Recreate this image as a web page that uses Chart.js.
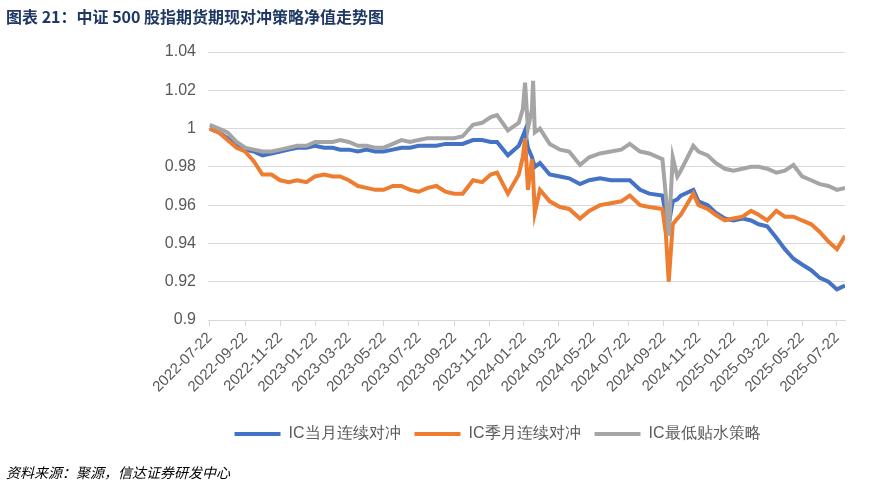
<!DOCTYPE html>
<html><head><meta charset="utf-8">
<script src="https://cdn.jsdelivr.net/npm/chart.js@4/dist/chart.umd.min.js"></script>
<style>
html,body{margin:0;padding:0;background:#fff;}
#wrap{position:relative;width:886px;height:488px;}
#title{position:absolute;left:6px;top:4px;font-family:"Noto Sans CJK SC";font-weight:bold;font-size:16px;color:#1f3864;}
#src{position:absolute;left:6px;top:462px;font-family:"Noto Sans CJK SC";font-style:italic;font-size:14px;color:#000;}
canvas{position:absolute;left:0;top:0;}
</style></head><body>
<div id="wrap"><canvas id="c" width="886" height="488"></canvas>
<div id="title">图表 21：中证 500 股指期货期现对冲策略净值走势图</div>
<div id="src">资料来源：聚源，信达证券研发中心</div></div>
<script>
const dates=["2022-07-22","2022-08-07","2022-08-22","2022-09-07","2022-09-22","2022-10-07","2022-10-22","2022-11-07","2022-11-22","2022-12-07","2022-12-22","2023-01-07","2023-01-22","2023-02-07","2023-02-22","2023-03-07","2023-03-22","2023-04-07","2023-04-22","2023-05-07","2023-05-22","2023-06-07","2023-06-22","2023-07-07","2023-07-22","2023-08-07","2023-08-22","2023-09-07","2023-09-22","2023-10-07","2023-10-25","2023-11-10","2023-11-25","2023-12-06","2023-12-25","2024-01-13","2024-01-20","2024-01-24","2024-01-29","2024-02-05","2024-02-07","2024-02-10","2024-02-19","2024-03-07","2024-03-25","2024-04-10","2024-04-29","2024-05-15","2024-06-03","2024-06-22","2024-07-10","2024-07-25","2024-08-12","2024-08-28","2024-09-20","2024-09-26","2024-10-01","2024-10-08","2024-10-16","2024-10-22","2024-11-13","2024-11-22","2024-12-08","2024-12-22","2025-01-07","2025-01-22","2025-02-07","2025-02-22","2025-03-07","2025-03-22","2025-04-07","2025-04-22","2025-05-07","2025-05-22","2025-06-07","2025-06-22","2025-07-07","2025-07-22","2025-08-05"];
const icMonth=[1.000,0.998,0.995,0.991,0.989,0.988,0.986,0.987,0.988,0.989,0.990,0.990,0.991,0.990,0.990,0.989,0.989,0.988,0.989,0.988,0.988,0.989,0.990,0.990,0.991,0.991,0.991,0.992,0.992,0.992,0.994,0.994,0.993,0.993,0.986,0.991,0.996,0.999,0.990,0.985,0.983,0.980,0.982,0.976,0.975,0.974,0.971,0.973,0.974,0.973,0.973,0.973,0.968,0.966,0.965,0.955,0.950,0.962,0.963,0.965,0.968,0.962,0.960,0.956,0.953,0.952,0.953,0.952,0.950,0.949,0.943,0.937,0.932,0.929,0.926,0.922,0.920,0.916,0.918];
const icQuarter=[1.000,0.998,0.994,0.990,0.988,0.983,0.976,0.976,0.973,0.972,0.973,0.972,0.975,0.976,0.975,0.975,0.973,0.970,0.969,0.968,0.968,0.970,0.970,0.968,0.967,0.969,0.970,0.967,0.966,0.966,0.973,0.972,0.976,0.977,0.966,0.976,0.985,0.995,0.968,0.984,0.975,0.956,0.968,0.962,0.959,0.958,0.953,0.957,0.960,0.961,0.962,0.965,0.960,0.959,0.958,0.945,0.920,0.950,0.953,0.955,0.966,0.960,0.958,0.955,0.952,0.953,0.954,0.957,0.955,0.952,0.957,0.954,0.954,0.952,0.950,0.946,0.941,0.937,0.944];
const icDiscount=[1.002,1.000,0.998,0.993,0.990,0.989,0.988,0.988,0.989,0.990,0.991,0.991,0.993,0.993,0.993,0.994,0.993,0.991,0.991,0.990,0.990,0.992,0.994,0.993,0.994,0.995,0.995,0.995,0.995,0.996,1.002,1.003,1.006,1.007,0.999,1.003,1.010,1.024,1.000,1.010,1.025,0.998,1.000,0.992,0.989,0.988,0.981,0.985,0.987,0.988,0.989,0.992,0.988,0.987,0.984,0.965,0.944,0.985,0.975,0.978,0.991,0.988,0.986,0.982,0.979,0.978,0.979,0.980,0.980,0.979,0.977,0.978,0.981,0.975,0.973,0.971,0.970,0.968,0.969];
const tickLabels=["2022-07-22","2022-09-22","2022-11-22","2023-01-22","2023-03-22","2023-05-22","2023-07-22","2023-09-22","2023-11-22","2024-01-22","2024-03-22","2024-05-22","2024-07-22","2024-09-22","2024-11-22","2025-01-22","2025-03-22","2025-05-22","2025-07-22"];
const names=["IC当月连续对冲","IC季月连续对冲","IC最低贴水策略"];
const t0=Date.UTC(2022,6,22);
const day=s=>{const [y,m,d]=s.split('-').map(Number);return Math.round((Date.UTC(y,m-1,d)-t0)/86400000);};
const pts=arr=>arr.map((v,i)=>({x:day(dates[i]),y:v}));
const tickDays=tickLabels.map(day);
const ds=(i,arr,col,ord)=>({label:names[i],data:pts(arr),borderColor:col,backgroundColor:col,borderWidth:4,pointRadius:0,pointStyle:'line',tension:0,order:ord});
new Chart(document.getElementById('c'),{type:'line',
data:{datasets:[ds(0,icMonth,'#4472c4',2),ds(1,icQuarter,'#ed7d31',1),ds(2,icDiscount,'#a5a5a5',0)]},
options:{responsive:false,animation:false,
layout:{padding:{left:150,right:41,top:52,bottom:36}},
plugins:{legend:{position:'bottom',labels:{usePointStyle:true,pointStyleWidth:46,font:{size:16,family:'Liberation Sans'},color:'#595959',boxHeight:4,padding:14,sort:(a,b)=>a.datasetIndex-b.datasetIndex}},tooltip:{enabled:false}},
scales:{
x:{type:'linear',min:-3,max:1110,afterBuildTicks:s=>{s.ticks=tickDays.map(v=>({value:v}));},afterFit:s=>{s.height=92;},
ticks:{minRotation:45,maxRotation:45,autoSkip:false,color:'#595959',font:{size:15,family:'Liberation Sans'},callback:(v)=>tickLabels[tickDays.indexOf(v)]},
grid:{drawOnChartArea:false,color:'#d9d9d9',tickLength:6},border:{color:'#d9d9d9'}},
y:{min:0.9,max:1.04,afterFit:s=>{s.width=58;},ticks:{stepSize:0.02,padding:12,color:'#595959',font:{size:16,family:'Liberation Sans'},callback:v=>String(Number(v.toFixed(2)))},
grid:{color:'#d9d9d9',drawTicks:false},border:{display:false}}
}}});
</script></body></html>
